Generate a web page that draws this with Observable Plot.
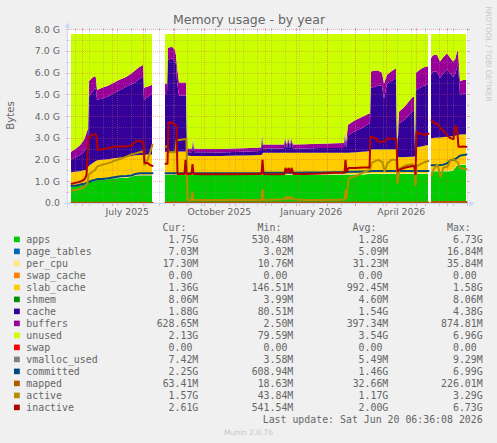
<!DOCTYPE html>
<html><head><meta charset="utf-8">
<script src="https://cdn.jsdelivr.net/npm/d3@7"></script>
<script src="https://cdn.jsdelivr.net/npm/@observablehq/plot@0.6"></script>
<style>
html,body{margin:0;padding:0;background:#F0F0F0;}
#wrap{position:relative;width:497px;height:443px;background:#F0F0F0;overflow:hidden;}
#chart{position:absolute;left:0;top:0;}
#legend{position:absolute;left:0;top:0;}
</style></head><body>
<div id="wrap"><div id="chart"></div><svg id="legend" width="497" height="443"></svg></div>
<script>
// time window: 400 days (x scale domain)
const start = new Date(Date.UTC(2025, 4, 17, 5, 0));
const end = new Date(Date.UTC(2026, 5, 21, 5, 0));
const totalGB = 8;

// sample days after the window start (null rows = no data)
const dayOffset = [
  4,9,13,17,19,20,21,22,25,28,29,30,35,41,47,53,59,64,68,72,76,77,80,83,85,
  91,
  98,100,101,105,108,109,110,112,117,118,119,120,124,125,126,127,138,153,168,183,
  193,194,195,196,208,217,218,220,221,223,224,226,238,253,268,277,278,279,281,288,
  295,302,303,304,308,311,315,317,320,324,329,330,332,338,345,347,348,349,353,357,361,
  363,
  364,366,370,373,376,380,383,386,388,390,391,393,396,399
];

// values in GiB
const apps = [
  .75,.77,.80,.82,.85,.88,.95,.98,.98,1.00,1.02,1.05,1.06,1.08,1.12,1.14,1.15,1.18,1.25,1.26,1.26,1.26,1.26,1.26,1.26,
  null,
  1.28,1.28,1.28,1.28,1.28,1.28,1.28,1.28,1.28,1.28,1.28,1.28,1.28,1.28,1.28,1.28,1.28,1.28,1.28,1.28,
  1.28,1.28,1.28,1.28,1.28,1.28,1.28,1.28,1.28,1.28,1.28,1.28,1.28,1.28,1.28,1.28,1.28,1.28,1.28,1.30,
  1.30,1.32,1.32,1.32,1.32,1.32,1.32,1.32,1.32,1.32,1.32,1.32,1.32,1.32,1.32,1.32,1.32,1.32,1.33,1.33,1.33,
  null,
  1.45,1.45,1.45,1.45,1.45,1.45,1.45,1.48,1.60,1.72,1.72,1.74,1.75,1.75
];
const pageTables = [
  .005,.005,.005,.005,.005,.005,.005,.005,.005,.005,.005,.005,.005,.005,.005,.005,.005,.005,.005,.005,.005,.005,.005,.005,.005,
  null,
  .005,.005,.005,.005,.005,.005,.005,.005,.005,.005,.005,.005,.005,.005,.005,.005,.005,.005,.005,.005,
  .005,.005,.005,.005,.005,.005,.005,.005,.005,.005,.005,.005,.005,.005,.005,.005,.005,.005,.005,.005,
  .005,.005,.005,.005,.005,.005,.005,.005,.005,.005,.005,.005,.005,.005,.005,.005,.005,.005,.005,.005,.005,
  null,
  .005,.005,.005,.005,.005,.005,.005,.005,.005,.005,.005,.005,.005,.005
];
const perCpu = [
  .03,.03,.03,.03,.03,.03,.03,.03,.03,.03,.03,.03,.03,.03,.03,.03,.03,.03,.03,.03,.03,.03,.03,.03,.03,
  null,
  .03,.03,.03,.03,.03,.03,.03,.03,.03,.03,.03,.03,.03,.03,.03,.03,.03,.03,.03,.03,
  .03,.03,.03,.03,.03,.03,.03,.03,.03,.03,.03,.03,.03,.03,.03,.03,.03,.03,.03,.03,
  .03,.03,.03,.03,.03,.03,.03,.03,.03,.03,.03,.03,.03,.03,.03,.03,.03,.03,.03,.03,.03,
  null,
  .03,.03,.03,.03,.03,.03,.03,.03,.03,.03,.03,.03,.03,.03
];
const swapCache = [
  0,0,0,0,0,0,0,0,0,0,0,0,0,0,0,0,0,0,0,0,0,0,0,0,0,
  null,
  0,0,0,0,0,0,0,0,0,0,0,0,0,0,0,0,0,0,0,0,
  0,0,0,0,0,0,0,0,0,0,0,0,0,0,0,0,0,0,0,0,
  0,0,0,0,0,0,0,0,0,0,0,0,0,0,0,0,0,0,0,0,0,
  null,
  0,0,0,0,0,0,0,0,0,0,0,0,0,0
];
const slabCache = [
  .615,.625,.615,.645,.635,.635,.665,.685,.785,.865,.865,.865,.885,.885,.895,.905,.935,.935,.895,.905,.905,.905,.925,.925,.925,
  null,
  1.035,1.035,1.035,1.035,1.035,1.045,1.045,1.045,1.045,1.045,1.045,.865,.835,.835,.835,.835,.835,.835,.855,.865,
  .885,.885,.905,.985,.985,.985,.985,.985,.985,.985,.985,.985,.985,.985,.985,.985,.985,.985,.985,.985,
  1.015,1.015,1.045,1.095,1.105,1.105,1.105,1.105,1.105,1.105,1.105,.745,.745,.745,.765,.765,.795,1.195,1.215,1.255,1.295,
  null,
  1.485,1.495,1.515,1.515,1.535,1.555,1.565,1.545,1.445,1.365,1.375,1.365,1.365,1.365
];
const shmem = [
  .005,.005,.005,.005,.005,.005,.005,.005,.005,.005,.005,.005,.005,.005,.005,.005,.005,.005,.005,.005,.005,.005,.005,.005,.005,
  null,
  .005,.005,.005,.005,.005,.005,.005,.005,.005,.005,.005,.005,.005,.005,.005,.005,.005,.005,.005,.005,
  .005,.005,.005,.005,.005,.005,.005,.005,.005,.005,.005,.005,.005,.005,.005,.005,.005,.005,.005,.005,
  .005,.005,.005,.005,.005,.005,.005,.005,.005,.005,.005,.005,.005,.005,.005,.005,.005,.005,.005,.005,.005,
  null,
  .008,.008,.008,.008,.008,.008,.008,.008,.008,.008,.008,.008,.008,.008
];
const cache = [
  .595,.665,.745,.845,.975,.995,1.045,3.195,3.295,3.395,3.275,2.795,2.815,2.895,2.995,3.115,3.225,3.295,3.365,3.495,3.595,2.545,2.625,2.725,2.825,
  null,
  2.695,2.695,4.245,4.295,4.145,4.035,3.235,2.585,2.585,2.585,2.585,.145,.175,.175,.745,.175,.175,.165,.165,.175,
  .175,.175,.875,.195,.195,.195,.595,.195,.595,.195,.595,.195,.195,.215,.215,.215,.895,.215,.795,.975,
  1.095,1.275,1.245,2.845,2.885,2.935,2.935,2.335,3.035,3.135,3.275,.295,1.545,1.745,2.075,2.125,.195,2.645,2.715,2.775,2.785,
  null,
  2.922,3.062,3.042,2.742,2.922,3.092,2.942,2.732,2.812,3.122,3.222,1.832,1.872,1.872
];
const buffers = [
  .35,.40,.45,.55,.65,.75,.70,.70,.65,.55,.55,.45,.50,.50,.50,.48,.45,.50,.55,.55,.55,.55,.50,.45,.40,
  null,
  .45,.45,.55,.55,.55,.40,.70,.60,.60,.60,.60,.17,.17,.17,.10,.17,.15,.16,.16,.16,
  .17,.17,.10,.18,.18,.18,.10,.18,.10,.18,.10,.18,.20,.20,.22,.23,.10,.23,.50,.50,
  .50,.47,.47,.75,.75,.70,.60,.70,.40,.45,.46,.15,.55,.60,.65,.65,.15,.80,.85,.85,.85,
  null,
  .78,.75,.78,.77,.75,.76,.70,.72,.70,.70,.70,.62,.63,.63
];
const unused = [
  5.43,5.28,5.13,4.88,4.63,4.48,4.38,2.18,2.03,1.93,2.03,2.58,2.48,2.38,2.23,2.10,1.98,1.83,1.68,1.53,1.43,2.48,2.43,2.38,2.33,
  null,
  2.28,2.28,.63,.58,.73,.98,1.48,2.23,2.23,2.23,2.23,5.28,5.28,5.28,4.78,5.28,5.30,5.30,5.28,5.26,
  5.23,5.23,4.58,5.10,5.10,5.10,4.78,5.10,4.78,5.10,4.78,5.10,5.08,5.06,5.04,5.03,4.48,5.03,4.18,3.98,
  3.83,3.66,3.66,1.73,1.68,1.68,1.78,2.28,1.88,1.73,1.58,5.23,3.58,3.33,2.93,2.88,5.28,1.78,1.63,1.53,1.48,
  null,
  1.10,.98,.95,1.26,1.08,.88,1.08,1.26,1.18,.83,.72,2.18,2.12,2.12
];
const swap = swapCache.slice(); // swap reads 0.00 everywhere, same as swap_cache
const vmallocUsed = [
  .005,.005,.005,.005,.005,.005,.005,.005,.005,.005,.005,.005,.005,.005,.005,.005,.005,.005,.005,.005,.005,.005,.005,.005,.005,
  null,
  .005,.005,.005,.005,.005,.005,.005,.005,.005,.005,.005,.005,.005,.005,.005,.005,.005,.005,.005,.005,
  .005,.005,.005,.005,.005,.005,.005,.005,.005,.005,.005,.005,.005,.005,.005,.005,.005,.005,.005,.005,
  .005,.005,.005,.005,.005,.005,.005,.005,.005,.005,.005,.005,.005,.005,.005,.005,.005,.005,.005,.005,.005,
  null,
  .007,.007,.007,.007,.007,.007,.007,.007,.007,.007,.007,.007,.007,.007
];
const committed = [
  .80,.82,.86,.90,.93,.95,.98,1.00,1.05,1.08,1.10,1.12,1.12,1.15,1.20,1.24,1.26,1.28,1.35,1.38,1.38,1.38,1.38,1.38,1.38,
  null,
  1.38,1.38,1.38,1.38,1.38,1.38,1.38,1.38,1.38,1.38,1.38,1.38,1.38,1.38,1.38,1.38,1.38,1.38,1.38,1.38,
  1.38,1.38,1.38,1.40,1.40,1.40,1.40,1.40,1.40,1.40,1.40,1.40,1.42,1.42,1.43,1.43,1.43,1.43,1.45,1.45,
  1.46,1.47,1.47,1.48,1.48,1.48,1.48,1.48,1.48,1.48,1.48,1.48,1.48,1.48,1.48,1.48,1.48,1.48,1.48,1.48,1.48,
  null,
  1.75,1.75,1.75,1.76,1.78,1.85,1.98,2.00,2.05,2.10,2.15,2.20,2.22,2.25
];
const mapped = [
  .025,.025,.025,.025,.025,.025,.025,.025,.025,.025,.025,.025,.025,.025,.025,.025,.025,.025,.025,.025,.025,.025,.025,.025,.025,
  null,
  .03,.03,.03,.03,.03,.03,.03,.03,.03,.03,.03,.03,.03,.03,.03,.03,.03,.03,.03,.03,
  .03,.03,.03,.03,.03,.03,.03,.03,.03,.03,.03,.03,.03,.03,.03,.03,.03,.03,.03,.03,
  .03,.03,.03,.03,.03,.03,.03,.03,.03,.03,.03,.03,.03,.03,.03,.03,.03,.03,.03,.03,.03,
  null,
  .06,.06,.06,.06,.06,.06,.06,.06,.06,.06,.06,.06,.06,.06
];
const active = [
  .58,.62,.68,.75,.85,.95,1.30,1.35,1.45,1.55,1.65,1.70,1.78,1.85,1.95,2.05,2.15,2.25,2.30,2.35,2.40,1.75,2.00,2.40,2.70,
  null,
  2.62,2.62,2.35,2.35,2.35,2.90,2.92,2.92,2.95,2.95,2.95,.15,.15,.55,.15,.15,.15,.15,.16,.15,
  .15,.15,.65,.15,.17,.18,.30,.18,.30,.18,.30,.18,.15,.15,.16,.16,.60,.20,1.15,1.25,
  1.40,1.55,1.60,1.85,1.95,2.00,1.90,1.45,1.85,2.00,2.00,.90,1.60,1.75,1.80,1.70,.80,1.70,1.80,1.90,1.95,
  null,
  1.28,1.55,1.80,1.20,1.65,1.68,1.97,2.05,1.95,1.90,1.80,1.60,1.60,1.57
];
const inactive = [
  .90,.95,1.00,1.10,1.30,2.20,3.00,3.05,3.15,3.20,3.10,2.45,2.50,2.55,2.60,2.62,2.62,2.65,2.85,2.88,2.80,1.85,1.85,1.75,1.72,
  null,
  1.82,1.82,3.75,3.70,3.60,3.55,1.35,1.35,1.35,2.00,1.35,1.35,1.35,1.80,1.35,1.35,1.33,1.33,1.33,1.35,
  1.35,1.35,2.00,1.35,1.33,1.35,1.63,1.40,1.63,1.40,1.63,1.35,1.35,1.37,1.40,1.40,2.00,1.45,1.62,1.62,
  1.65,1.65,3.06,3.06,3.00,2.83,2.85,2.85,2.98,2.98,2.95,1.45,1.55,1.65,1.72,1.70,1.30,3.30,3.20,3.15,3.20,
  null,
  3.83,3.70,3.65,3.45,3.35,3.10,3.00,2.95,3.60,3.20,2.60,2.60,2.62,2.61
];

// legend text
const legendNames = ["apps","page_tables","per_cpu","swap_cache","slab_cache","shmem","cache","buffers","unused","swap","vmalloc_used","committed","mapped","active","inactive"];
const legendColors = ["#00CC00","#0066B3","#FFE680","#FF8000","#FFCC00","#008F00","#330099","#990099","#CCFF00","#FF0000","#808080","#00487D","#B35A00","#B38F00","#B30000"];
const legendCur = ["1.75G","7.03M","17.30M","0.00","1.36G","8.06M","1.88G","628.65M","2.13G","0.00","7.42M","2.25G","63.41M","1.57G","2.61G"];
const legendMin = ["530.48M","3.02M","10.76M","0.00","146.51M","3.99M","80.51M","2.50M","79.59M","0.00","3.58M","608.94M","18.63M","43.84M","541.54M"];
const legendAvg = ["1.28G","5.09M","31.23M","0.00","992.45M","4.60M","1.54G","397.34M","3.54G","0.00","5.49M","1.46G","32.66M","1.17G","2.00G"];
const legendMax = ["6.73G","16.84M","35.84M","0.00","1.58G","8.06M","4.38G","874.81M","6.96G","0.00","9.29M","6.99G","226.01M","3.29G","6.73G"];
const xLabels = ["July 2025","October 2025","January 2026","April 2026"];
const xLabelMonths = ["2025-07-01","2025-10-01","2026-01-01","2026-04-01"];
const yTicks = [0,1,2,3,4,5,6,7,8];

// ---- build tables ----
const dates = dayOffset.map(d => new Date(+start + d * 864e5));
const stackDefs = [
  [apps,"#00CC00"],[pageTables,"#0066B3"],[perCpu,"#FFE680"],[swapCache,"#FF8000"],[slabCache,"#FFCC00"],
  [shmem,"#008F00"],[cache,"#330099"],[buffers,"#990099"],[unused,"#CCFF00"],[swap,"#FF0000"]
];
const base = dates.map(() => 0);
const areaMarks = stackDefs.map(([vals, color]) => {
  const rows = dates.map((date, i) => {
    const v = vals[i];
    if (v == null) return {date, y1: NaN, y2: NaN};
    const r = {date, y1: base[i], y2: base[i] + v};
    base[i] += v;
    return r;
  });
  return Plot.areaY(rows, {x: "date", y1: "y1", y2: "y2", fill: color});
});
const lineDefs = [[vmallocUsed,"#808080"],[committed,"#00487D"],[mapped,"#B35A00"],[active,"#B38F00"],[inactive,"#B30000"]];
const lineMarks = lineDefs.map(([vals, color]) =>
  Plot.lineY(dates.map((date, i) => ({date, v: vals[i] == null ? NaN : vals[i]})),
    {x: "date", y: "v", stroke: color, strokeWidth: 2, strokeLinejoin: "miter"}));

const monthStarts = d3.utcMonth.range(start, end);
const minorDates = d3.range(-12, 20).map(k => d3.utcDay.offset(new Date(Date.UTC(2025, 9, 12)), 14 * k)).filter(d => d > start && d < end);
const yMinor = d3.range(0.5, totalGB, 1);
const labelDates = xLabelMonths.map(s => d3.utcDay.offset(new Date(s + "T00:00Z"), 15));

const gridMinor = "#8F8F8F", gridMajor = "#DE4F4F";
function axesMark(index, scales) {
  const x = scales.x, y = scales.y;
  const x0 = Math.round(x(start)) + 0.5, x1 = Math.round(x(end)) + 0.5;
  const y0 = Math.round(y(0)) + 0.5, yt = Math.round(y(totalGB)) + 0.5;
  const g = d3.create("svg:g");
  const tick = (a, b, c, d, col, op) => g.append("line").attr("x1", a).attr("x2", b).attr("y1", c).attr("y2", d)
    .attr("stroke", col).attr("stroke-opacity", op).attr("shape-rendering", "crispEdges");
  for (const v of yMinor) { const yy = Math.round(y(v)) + 0.5; tick(x0 - 2, x0 + 1, yy, yy, gridMinor, 0.4); tick(x1 - 1, x1 + 2, yy, yy, gridMinor, 0.4); }
  for (const v of yTicks) { const yy = Math.round(y(v)) + 0.5; tick(x0 - 2, x0 + 1, yy, yy, gridMajor, 0.45); tick(x1 - 1, x1 + 2, yy, yy, gridMajor, 0.45); }
  for (const d of minorDates) { const xx = Math.round(x(d)) + 0.5; tick(xx, xx, y0 - 1, y0 + 2, gridMinor, 0.4); tick(xx, xx, yt - 2, yt + 1, gridMinor, 0.4); }
  for (const d of monthStarts) { const xx = Math.round(x(d)) + 0.5; tick(xx, xx, y0 - 1, y0 + 2, gridMajor, 0.45); tick(xx, xx, yt - 2, yt + 1, gridMajor, 0.45); }
  const c = "#CFD6F8";
  tick(x0 - 4, x1 + 4, y0, y0, c, 1);
  tick(x0, x0, y0 + 4, yt - 4, c, 1);
  g.append("path").attr("d", `M${x1 + 2},${y0 - 3}L${x1 + 2},${y0 + 3}L${x1 + 7},${y0}Z`).attr("fill", c);
  g.append("path").attr("d", `M${x0 - 3},${yt - 2}L${x0 + 3},${yt - 2}L${x0},${yt - 7}Z`).attr("fill", c);
  return g.node();
}

const textColor = "#666666";
const chart = Plot.plot({
  width: 497, height: 222,
  marginLeft: 67, marginRight: 30, marginTop: 29.3, marginBottom: 19.3,
  style: {background: "#F0F0F0", fontFamily: "'DejaVu Sans', sans-serif", overflow: "visible"},
  x: {type: "utc", domain: [start, end], axis: null},
  y: {domain: [0, totalGB], axis: null},
  marks: [
    Plot.frame({fill: "white", stroke: null}),
    ...areaMarks,
    Plot.ruleY(yMinor, {y: d => d, x1: () => start, x2: () => end, stroke: gridMinor, strokeOpacity: 0.32, strokeDasharray: "1,1", shapeRendering: "crispEdges"}),
    Plot.ruleX(minorDates, {x: d => d, y1: () => 0, y2: () => totalGB, stroke: gridMinor, strokeOpacity: 0.32, strokeDasharray: "1,1", shapeRendering: "crispEdges"}),
    Plot.ruleY(yTicks, {y: d => d, x1: () => start, x2: () => end, stroke: gridMajor, strokeOpacity: 0.38, strokeDasharray: "1,1", shapeRendering: "crispEdges"}),
    Plot.ruleX(monthStarts, {x: d => d, y1: () => 0, y2: () => totalGB, stroke: gridMajor, strokeOpacity: 0.38, strokeDasharray: "1,1", shapeRendering: "crispEdges"}),
    ...lineMarks,
    axesMark,
    Plot.text(yTicks, {x: () => start, y: d => d, text: d => d === 0 ? "0.0" : d.toFixed(1) + " G", textAnchor: "end", dx: -7.5, fill: textColor, fontSize: 9.4}),
    Plot.text(labelDates, {x: d => d, y: () => 0, text: (d, i) => xLabels[i], dy: 9.2, fill: textColor, fontSize: 9.3}),
    Plot.text(["Bytes"], {frameAnchor: "left", textAnchor: "middle", lineAnchor: "middle", dx: -57, dy: -1, rotate: -90, fill: textColor, fontSize: 10.2}),
    Plot.text(["Memory usage - by year"], {frameAnchor: "top-left", textAnchor: "middle", lineAnchor: "middle", dx: 181.5, dy: -10.3, fill: textColor, fontSize: 12.5}),
    Plot.text(["RRDTOOL / TOBI OETIKER"], {frameAnchor: "top-right", textAnchor: "middle", lineAnchor: "middle", dx: 21, dy: 24.2, rotate: 90, fill: "#C7C7C7", fontSize: 7.4})
  ]
});
document.getElementById("chart").appendChild(chart);

// ---- legend (below the chart) ----
const lg = d3.select("#legend").style("font-family", "'DejaVu Sans Mono', monospace").style("font-size", "9.9px");
const cw = 5.96;
const cols = [[legendCur, 198.3], [legendMin, 293.3], [legendAvg, 388.3], [legendMax, 482.7]];
const headers = ["Cur:", "Min:", "Avg:", "Max:"];
headers.forEach((h, j) => lg.append("text").attr("x", cols[j][1] - 2 * cw).attr("y", 231).attr("text-anchor", "end").attr("fill", textColor).text(h));
legendNames.forEach((name, i) => {
  const b = 243 + 12 * i;
  lg.append("rect").attr("x", 14).attr("y", b - 6.4).attr("width", 5.8).attr("height", 5.6).attr("fill", legendColors[i]);
  lg.append("text").attr("x", 26.3).attr("y", b).attr("fill", textColor).text(name);
  cols.forEach(([vals, xr]) => {
    const s = vals[i];
    const pad = /[A-Za-z]$/.test(s) ? 0 : cw;
    lg.append("text").attr("x", xr - pad).attr("y", b).attr("text-anchor", "end").attr("fill", textColor).text(s);
  });
});
lg.append("text").attr("x", 482.7).attr("y", 423).attr("text-anchor", "end").attr("fill", textColor).text("Last update: Sat Jun 20 06:36:08 2026");
lg.append("text").attr("x", 248.5).attr("y", 435).attr("text-anchor", "middle").attr("fill", "#C7C7C7")
  .style("font-family", "'DejaVu Sans', sans-serif").style("font-size", "7.5px").text("Munin 2.0.76");
</script>
</body></html>
